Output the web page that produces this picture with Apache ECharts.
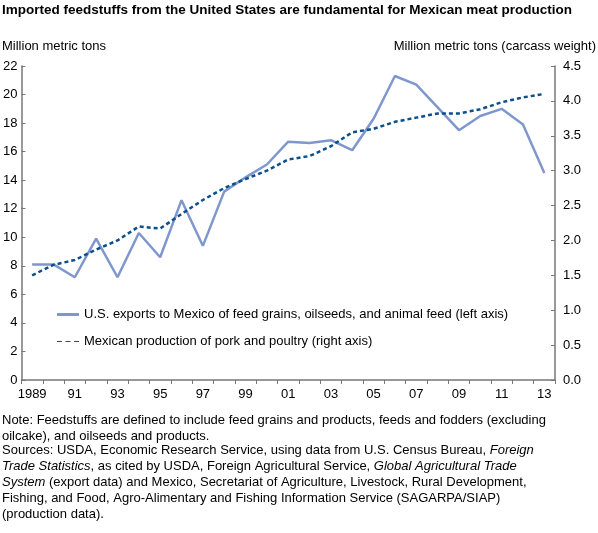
<!DOCTYPE html>
<html>
<head>
<meta charset="utf-8">
<script src="https://cdn.jsdelivr.net/npm/echarts@6/dist/echarts.min.js"></script>
<style>body{margin:0}#chart{width:598px;height:533px}</style>
</head>
<body>
<div id="chart"></div>
<script>
const years = ['1989','90','91','92','93','94','95','96','97','98','99','2000','01','02','03','04','05','06','07','08','09','10','11','12','13'];
const exportsFeed = [8.1, 8.1, 7.2, 9.9, 7.2, 10.3, 8.6, 12.6, 9.4, 13.2, 14.2, 15.1, 16.7, 16.6, 16.8, 16.1, 18.3, 21.3, 20.7, 19.1, 17.5, 18.5, 19.0, 17.9, 14.5];
const meatProd = [1.5, 1.65, 1.72, 1.87, 2.0, 2.2, 2.17, 2.38, 2.58, 2.75, 2.88, 3.0, 3.16, 3.21, 3.35, 3.55, 3.6, 3.7, 3.76, 3.82, 3.82, 3.88, 3.98, 4.05, 4.1];
const xLabels = ['1989','','91','','93','','95','','97','','99','','01','','03','','05','','07','','09','','11','','13'];

const font = 'Liberation Sans, Arial, sans-serif';
const chart = echarts.init(document.getElementById('chart'));
const txt = (x, y, text, extra) => ({type: 'text', left: x, top: y, style: Object.assign({text: text, font: '13px ' + font, fill: '#000'}, extra || {})});
chart.setOption({
  animation: false,
  textStyle: {fontFamily: font},
  grid: {left: 20, right: 43, top: 66, bottom: 153},
  legend: {
    orient: 'vertical', left: 52, top: 303, itemGap: 14, itemWidth: 22, itemHeight: 3,
    textStyle: {fontSize: 13, color: '#000', fontFamily: font},
    data: [
      {name: 'U.S. exports to Mexico of feed grains, oilseeds, and animal feed (left axis)', icon: 'rect'},
      {name: 'Mexican production of pork and poultry (right axis)', icon: 'path://M0,0h4v1h-4zM7,0h4v1h-4zM14,0h4v1h-4z'}
    ]
  },
  xAxis: {
    type: 'category', data: years, boundaryGap: true,
    axisLine: {lineStyle: {color: '#777', width: 1.5}},
    axisTick: {show: true, length: 4, lineStyle: {color: '#777'}},
    axisLabel: {color: '#000', fontSize: 13, interval: 0, formatter: (v, i) => xLabels[i]}
  },
  yAxis: [
    {type: 'value', min: 0, max: 22, interval: 2, position: 'left',
     axisLine: {show: true, lineStyle: {color: '#777', width: 1.5}},
     axisTick: {show: true, inside: true, length: 4, lineStyle: {color: '#777'}},
     splitLine: {show: false}, axisLabel: {color: '#000', fontSize: 13, margin: 4}},
    {type: 'value', min: 0, max: 4.5, interval: 0.5, position: 'right',
     axisLine: {show: true, lineStyle: {color: '#777', width: 1.5}},
     axisTick: {show: true, inside: true, length: 4, lineStyle: {color: '#777'}},
     splitLine: {show: false},
     axisLabel: {color: '#000', fontSize: 13, formatter: v => v.toFixed(1)}}
  ],
  series: [
    {name: 'U.S. exports to Mexico of feed grains, oilseeds, and animal feed (left axis)', type: 'line',
     data: exportsFeed, yAxisIndex: 0, symbol: 'none', color: '#7f97cc',
     lineStyle: {width: 2.5, color: '#7f97cc'}},
    {name: 'Mexican production of pork and poultry (right axis)', type: 'line',
     data: meatProd, yAxisIndex: 1, symbol: 'none', color: '#0b4f8c',
     lineStyle: {width: 2.5, color: '#0b4f8c', type: [4, 3]}}
  ],
  graphic: [
    txt(2, 3, 'Imported feedstuffs from the United States are fundamental for Mexican meat production', {font: 'bold 13.5px ' + font}),
    txt(2, 40, 'Million metric tons'),
    {type: 'text', right: 2, top: 40, style: {text: 'Million metric tons (carcass weight)', font: '13px ' + font, fill: '#000'}},
    txt(2, 412, 'Note: Feedstuffs are defined to include feed grains and products, feeds and fodders (excluding\noilcake), and oilseeds and products.', {lineHeight: 16}),
    {type: 'text', left: 2, top: 444, style: {rich: {n: {fontSize: 13, fontFamily: font, lineHeight: 16}, i: {fontSize: 13, fontFamily: font, fontStyle: 'italic', lineHeight: 16}},
      text: '{n|Sources: USDA, Economic Research Service, using data from U.S. Census Bureau, }{i|Foreign}\n{i|Trade Statistics}{n|, as cited by USDA, Foreign Agricultural Service, }{i|Global Agricultural Trade}\n{i|System}{n| (export data) and Mexico, Secretariat of Agriculture, Livestock, Rural Development,}\n{n|Fishing, and Food, Agro-Alimentary and Fishing Information Service (SAGARPA/SIAP)}\n{n|(production data).}', fill: '#000'}}
  ]
});
</script>
</body>
</html>
